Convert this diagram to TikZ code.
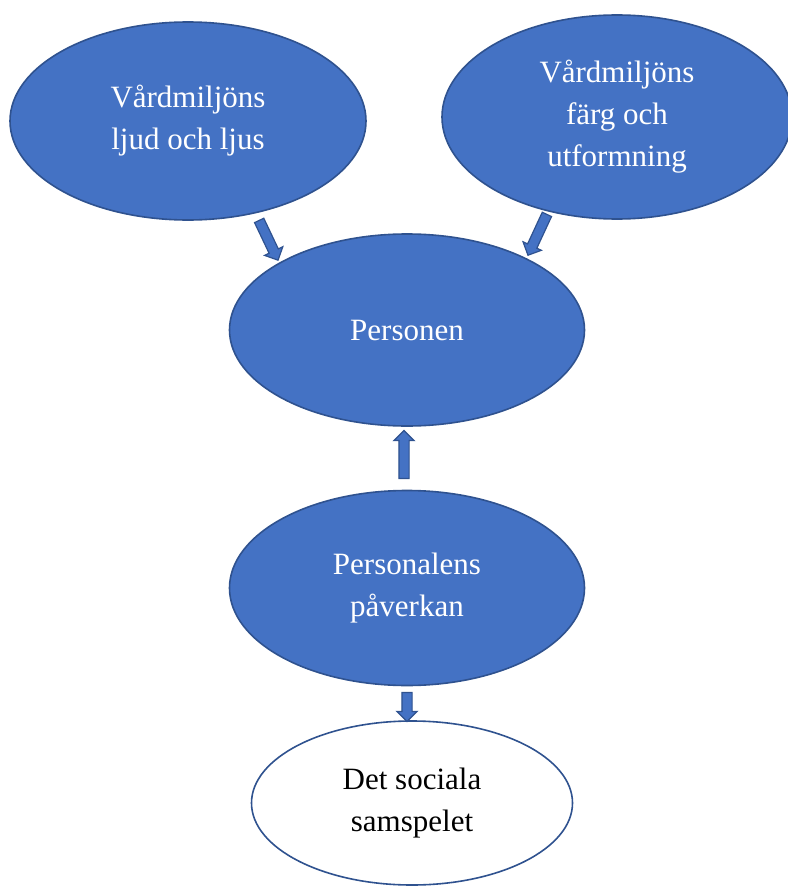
\documentclass[tikz,border=0pt]{standalone}
\usepackage{fontspec}
\setmainfont{Liberation Serif}
\usetikzlibrary{shapes.arrows,shapes.geometric}
\definecolor{fillblue}{HTML}{4472C4}
\definecolor{edgeblue}{HTML}{2F528F}
\begin{document}
\begin{tikzpicture}[x=1pt,y=-1pt,
  bubble/.style={ellipse,draw=edgeblue,line width=1.6pt,fill=fillblue,text=white,
    align=center,font=\fontsize{31}{42}\selectfont,inner sep=0pt},
  whitebubble/.style={bubble,fill=white,text=black},
  blockarrow/.style={single arrow,draw=edgeblue,line width=1.2pt,fill=fillblue,
    single arrow head extend=5pt,inner xsep=0pt,inner ysep=4.5pt,
    single arrow head indent=0pt}]
\useasboundingbox (0,0) rectangle (787,886);
\node[bubble,minimum width=356pt,minimum height=198pt] (ljud) at (188,121) {Vårdmiljöns\\ljud och ljus};
\node[bubble,minimum width=350pt,minimum height=204pt] (farg) at (617,117) {Vårdmiljöns\\färg och\\utformning};
\node[bubble,minimum width=355pt,minimum height=192pt] (pers) at (407,330) {Personen};
\node[bubble,minimum width=355pt,minimum height=195pt] (pal) at (407,588) {Personalens\\påverkan};
\node[whitebubble,minimum width=321pt,minimum height=164pt] (soc) at (412,803) {Det sociala\\samspelet};
\node[blockarrow,minimum height=44pt,rotate=-64.6] (a1) at (267.5,238) {};
\node[blockarrow,minimum height=45pt,rotate=-114.9] (a2) at (538.5,232.5) {};
\node[blockarrow,minimum height=48pt,rotate=90] (a3) at (404,457) {};
\node[blockarrow,minimum height=29pt,rotate=-90] (a4) at (407,704.5) {};
\end{tikzpicture}
\end{document}
